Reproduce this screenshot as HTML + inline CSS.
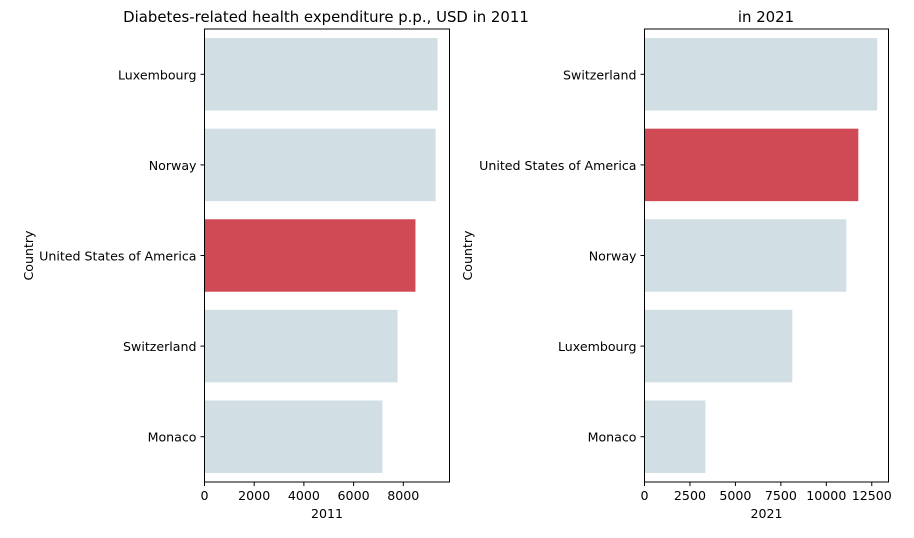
<!DOCTYPE html>
<html><head><meta charset="utf-8"><style>
body{margin:0;background:#fff;font-family:"Liberation Sans","DejaVu Sans",sans-serif}
svg text{font-family:"DejaVu Sans","Liberation Sans",sans-serif;fill:#000}
</style></head><body>
<svg id="c" width="914" height="533"></svg>
<script>
const leftCats=["Luxembourg","Norway","United States of America","Switzerland","Monaco"];
const leftVals=[9380,9300,8490,7770,7160];
const leftTicks=[0,2000,4000,6000,8000];
const rightCats=["Switzerland","United States of America","Norway","Luxembourg","Monaco"];
const rightVals=[12800,11760,11100,8130,3350];
const rightTicks=[0,2500,5000,7500,10000,12500];
const highlight="United States of America";
const svg=document.getElementById('c');const NS="http://www.w3.org/2000/svg";
function el(t,a,txt){const e=document.createElementNS(NS,t);for(const k in a)e.setAttribute(k,a[k]);if(txt!==undefined)e.textContent=txt;svg.appendChild(e);return e;}
function panel(p,cats,vals,ticks,x0,x1,xmax,title,xlabel,ylabelX,titleX){
 const top=29,bot=482,band=(bot-top)/cats.length;
 const sx=v=>x0+(x1-x0)*v/xmax;
 cats.forEach((c,i)=>{
  const y=top+band*i+band*0.1;
  const r=el('rect',{x:x0,y:y,width:sx(vals[i])-x0,height:band*0.8,fill:c===highlight?'#d04a55':'#d1dfe5'});
  
  
  el('line',{x1:x0-4,x2:x0,y1:top+band*(i+0.5),y2:top+band*(i+0.5),stroke:'#000','stroke-width':1});
  const t=el('text',{x:x0-8,y:top+band*(i+0.5)+5,'text-anchor':'end','font-size':12.6},c);
  
  
 });
 ticks.forEach(v=>{
  el('line',{x1:sx(v),x2:sx(v),y1:bot,y2:bot+4,stroke:'#000'});
  const t=el('text',{x:sx(v),y:bot+18,'text-anchor':'middle','font-size':12.6},String(v));
  
  
 });
 const f=el('rect',{x:x0,y:top,width:x1-x0,height:bot-top,fill:'none',stroke:'#000','stroke-width':1});
 
 
 const xt=el('text',{x:(x0+x1)/2,y:518,'text-anchor':'middle','font-size':12.6},xlabel);
 
 
 const yt=el('text',{x:ylabelX,y:(top+bot)/2,'text-anchor':'middle','font-size':12.6,transform:`rotate(-90 ${ylabelX} ${(top+bot)/2})`},'Country');
 
 
 const tt=el('text',{x:titleX,y:22,'text-anchor':'middle','font-size':14.9},title);
 
 
}
panel('left',leftCats,leftVals,leftTicks,204.5,449.5,9860,'Diabetes-related health expenditure p.p., USD in 2011','2011',33,326);
panel('right',rightCats,rightVals,rightTicks,644.5,888.5,13420,'in 2021','2021',472,766);
</script>
</body></html>
